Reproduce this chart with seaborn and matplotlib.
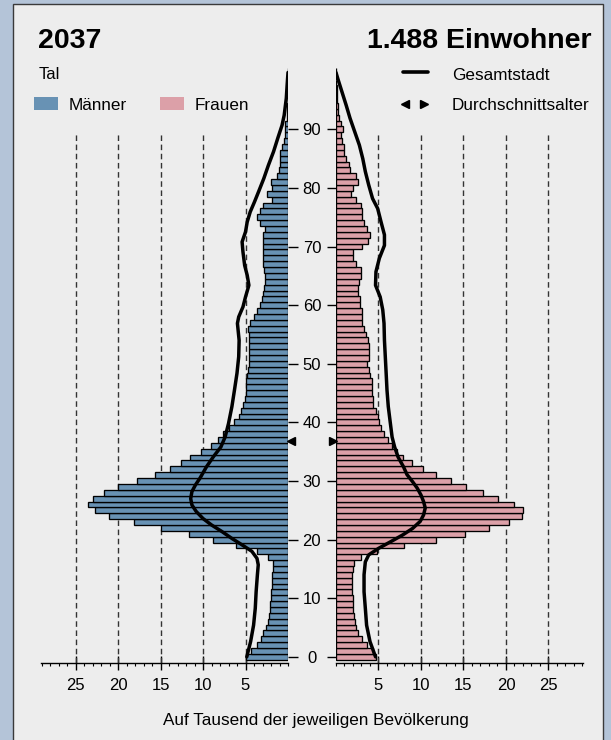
import matplotlib
matplotlib.use("Agg")
import matplotlib.pyplot as plt
import seaborn as sns
import pandas as pd
from matplotlib.ticker import MultipleLocator
from matplotlib.patches import Rectangle
from matplotlib.lines import Line2D

# Alter 0..100, Anteil je Tausend (Tal, 2037)
ages = list(range(0, 101))
maenner = [4.9, 4.4, 3.7, 3.2, 2.9, 2.6, 2.3, 2.2, 2.1, 2.1,
           2.0, 2.0, 1.9, 1.9, 1.85, 1.8, 1.8, 2.3, 3.7, 6.1,
           8.8, 11.7, 15.0, 18.1, 21.1, 22.7, 23.5, 22.9, 21.7, 20.0,
           17.8, 15.6, 13.9, 12.6, 11.5, 10.2, 9.1, 8.2, 7.7, 6.9,
           6.3, 5.8, 5.55, 5.3, 5.1, 5.0, 4.9, 4.9, 4.8, 4.7,
           4.6, 4.6, 4.6, 4.6, 4.6, 4.6, 4.65, 4.5, 4.05, 3.6,
           3.35, 3.1, 3.0, 2.8, 2.7, 2.65, 2.8, 2.9, 3.0, 3.0,
           3.0, 2.9, 2.9, 2.7, 3.25, 3.65, 3.3, 2.9, 1.85, 2.5,
           1.85, 2.0, 1.3, 1.1, 1.0, 0.9, 0.9, 0.7, 0.45, 0.3,
           0.4, 0.3, 0.1, 0.1, 0.1, 0.05, 0.05, 0.03, 0.02, 0.02, 0.02]
frauen = [4.7, 4.3, 3.6, 3.1, 2.6, 2.3, 2.2, 2.1, 2.0, 2.0,
          1.95, 1.9, 1.9, 1.9, 1.9, 2.0, 2.1, 2.9, 4.8, 8.0,
          11.8, 15.2, 18.0, 20.3, 21.9, 22.0, 20.9, 19.1, 17.3, 15.3,
          13.5, 11.8, 10.2, 9.0, 7.9, 7.2, 6.6, 6.1, 5.6, 5.3,
          5.1, 4.9, 4.65, 4.4, 4.3, 4.25, 4.2, 4.2, 4.05, 3.9,
          3.6, 3.85, 3.85, 3.85, 3.75, 3.5, 3.35, 3.05, 3.1, 3.1,
          2.8, 2.8, 2.6, 2.55, 2.75, 2.95, 2.9, 2.35, 2.0, 2.05,
          3.05, 3.75, 4.05, 3.65, 3.35, 3.1, 3.05, 2.9, 2.3, 1.8,
          2.05, 2.55, 2.3, 1.65, 1.5, 1.2, 0.9, 0.9, 0.7, 0.6,
          0.8, 0.6, 0.4, 0.25, 0.2, 0.15, 0.1, 0.08, 0.05, 0.03, 0.02]

# Gesamtstadt (Linie)
gesamt_m_alter = [0, 2.6, 5.4, 8.3, 11.1, 14, 15.7, 16.8, 18, 19.1, 20.2, 21.4, 22.5, 23.6,
                  24.8, 25.9, 27, 28.2, 29.3, 30.5, 32.4, 34.1, 35.8, 37.5, 39.8, 42.7,
                  45.5, 48.4, 51.2, 54, 56.9, 58, 59.7, 61.4, 63.4, 65.1, 66.8, 69.1,
                  70.8, 72.5, 74.2, 75.9, 77.6, 79.4, 81.6, 83.9, 86.2, 88.5, 90.7,
                  92.4, 95.3, 97.6, 99.7]
gesamt_m_wert = [4.85, 4.4, 4.05, 3.85, 3.75, 3.6, 3.5, 3.65, 4.25, 5.4, 6.6, 7.8, 9.0, 10.0,
                 10.8, 11.3, 11.45, 11.3, 10.9, 10.35, 9.6, 8.8, 7.9, 7.4, 7.0, 6.6,
                 6.3, 6.0, 5.8, 5.75, 5.95, 5.8, 5.3, 5.0, 4.6, 4.8, 5.1, 5.3,
                 5.4, 5.0, 4.8, 4.45, 3.95, 3.45, 2.85, 2.3, 1.7, 1.2, 0.7,
                 0.45, 0.2, 0.1, 0.0]
gesamt_f_alter = [0, 2.6, 5.4, 8.3, 11.1, 14, 16.2, 17.4, 18.5, 19.7, 20.8, 21.9, 23.1, 24.2,
                  25.4, 26.5, 27.6, 28.8, 29.9, 31.1, 32.4, 34.1, 35.8, 37.5, 39.8, 42.7,
                  45.5, 48.4, 51.2, 54, 56.9, 59.2, 61.4, 63.4, 65.7, 68, 70.2, 72,
                  74.2, 76.5, 78.2, 80.5, 82.8, 85, 87.3, 89.6, 91.9, 94.1, 96.4, 98.7, 99.7]
gesamt_f_wert = [4.65, 4.0, 3.6, 3.45, 3.3, 3.3, 3.45, 3.85, 5.0, 6.5, 7.85, 9.0, 9.9, 10.3,
                 10.5, 10.3, 10.0, 9.55, 9.0, 8.35, 7.95, 7.3, 6.9, 6.6, 6.4, 6.15,
                 6.0, 5.9, 5.8, 5.7, 5.65, 5.5, 5.2, 4.65, 4.7, 5.1, 5.7, 5.7,
                 5.3, 4.9, 4.3, 3.85, 3.45, 3.15, 2.75, 2.2, 1.65, 1.2, 0.7, 0.2, 0.0]

avg_alter_m = 36.8
avg_alter_f = 36.8
x_ticks = [5, 10, 15, 20, 25]
y_ticks = list(range(0, 100, 10))

BLAU = "#6892B4"
ROSA = "#DCA0A8"
PANEL = "#EDEDED"
W, H = 611, 740

sns.set_theme(style="white")
plt.rcParams["font.family"] = ["Liberation Sans", "DejaVu Sans"]
plt.rcParams["text.color"] = "black"
plt.rcParams["axes.labelcolor"] = "black"


def fx(x):
    return x / W


def fy(y):
    return 1 - y / H


fig = plt.figure(figsize=(W / 100, H / 100), dpi=100)
fig.patch.set_facecolor("#B4C4D8")
fig.add_artist(Rectangle((fx(13), fy(745)), (603 - 13) / W, (745 - 4) / H,
                         transform=fig.transFigure, facecolor=PANEL,
                         edgecolor="#3a3a3a", linewidth=1, zorder=0))

y0, y1 = 662.7, 67.8
axL = fig.add_axes([fx(41), fy(y0), (288 - 41) / W, (y0 - y1) / H])
axR = fig.add_axes([fx(336), fy(y0), (583 - 336) / W, (y0 - y1) / H])

df_m = pd.DataFrame({"Alter": ages, "Wert": maenner})
df_f = pd.DataFrame({"Alter": ages, "Wert": frauen})

for ax, df, col, g_alter, g_wert in [(axL, df_m, BLAU, gesamt_m_alter, gesamt_m_wert),
                                     (axR, df_f, ROSA, gesamt_f_alter, gesamt_f_wert)]:
    ax.set_facecolor("none")
    ax.vlines(x_ticks, -1, 89.5, colors="#333333", linestyles=(0, (4, 2.6)),
              linewidth=1, zorder=1)
    sns.barplot(data=df, x="Wert", y="Alter", orient="h", native_scale=True,
                width=1, color=col, saturation=1, edgecolor="black",
                linewidth=0.95, errorbar=None, ax=ax, zorder=2)
    sns.lineplot(x=g_wert, y=g_alter, sort=False, estimator=None, color="black",
                 linewidth=2.5, ax=ax, zorder=3)
    ax.set_xlabel("")
    ax.set_ylabel("")
    ax.set_ylim(-1, 100.5)
    ax.set_xticks(x_ticks)
    ax.set_xticklabels([str(t) for t in x_ticks])
    ax.xaxis.set_minor_locator(MultipleLocator(1))
    ax.tick_params(axis="x", which="major", bottom=True, direction="inout",
                   length=10, width=1, pad=6, labelsize=12, colors="black")
    ax.tick_params(axis="x", which="minor", bottom=True, direction="out",
                   length=2.5, width=0.8, color="black")
    ax.set_yticks(y_ticks)
    for s in ["top", "left", "right"]:
        ax.spines[s].set_visible(False)
    ax.spines["bottom"].set_color("black")
    ax.spines["bottom"].set_linewidth(1)

axL.set_xlim(29.06, 0)
axR.set_xlim(0, 29.06)

axL.yaxis.tick_right()
axL.tick_params(axis="y", right=True, left=False, direction="out", length=7.2,
                width=1, pad=10, labelsize=12, colors="black")
for lbl in axL.get_yticklabels():
    lbl.set_horizontalalignment("center")
axR.tick_params(axis="y", left=True, direction="out", length=6.5, width=1,
                labelleft=False, color="black")

# Durchschnittsalter
axL.plot([-0.41], [avg_alter_m], marker="<", ms=5.3, color="black", clip_on=False, zorder=4)
axR.plot([-0.41], [avg_alter_f], marker=">", ms=5.3, color="black", clip_on=False, zorder=4)

# Titel und Legende
fig.text(fx(38), fy(48.3), "2037", fontsize=20.5, fontweight="bold", ha="left", va="baseline")
fig.text(fx(591.6), fy(48.3), "1.488 Einwohner", fontsize=20.5, fontweight="bold",
         ha="right", va="baseline")
fig.text(fx(39), fy(79), "Tal", fontsize=12, ha="left", va="baseline")
fig.add_artist(Rectangle((fx(34), fy(110)), 24 / W, 13 / H, transform=fig.transFigure,
                         facecolor=BLAU, edgecolor="none"))
fig.text(fx(68.2), fy(110), "Männer", fontsize=12.3, ha="left", va="baseline")
fig.add_artist(Rectangle((fx(160), fy(110)), 24 / W, 13 / H, transform=fig.transFigure,
                         facecolor=ROSA, edgecolor="none"))
fig.text(fx(194.9), fy(110), "Frauen", fontsize=12.3, ha="left", va="baseline")
fig.add_artist(Line2D([fx(402.5), fx(428)], [fy(72), fy(72)], transform=fig.transFigure,
                      color="black", linewidth=2.6))
fig.text(fx(452), fy(80), "Gesamtstadt", fontsize=12.3, ha="left", va="baseline")
fig.add_artist(Line2D([fx(404.5)], [fy(104)], transform=fig.transFigure, marker="<",
                      ms=5.3, color="black", linestyle="none"))
fig.add_artist(Line2D([fx(424)], [fy(104)], transform=fig.transFigure, marker=">",
                      ms=5.3, color="black", linestyle="none"))
fig.text(fx(452), fy(110), "Durchschnittsalter", fontsize=12.3, ha="left", va="baseline")
fig.text(fx(316), fy(725), "Auf Tausend der jeweiligen Bevölkerung", fontsize=12.3,
         ha="center", va="baseline")

fig.savefig("out.png", dpi=100, facecolor=fig.get_facecolor())
